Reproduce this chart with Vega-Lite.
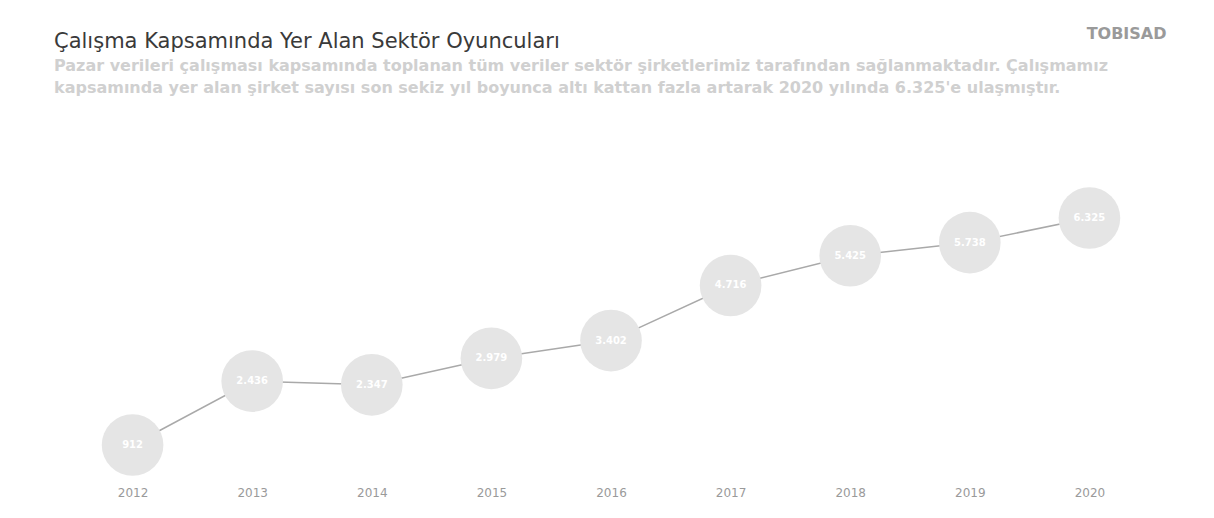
{
  "$schema": "https://vega.github.io/schema/vega-lite/v6.json",
  "width": 1114,
  "height": 338,
  "padding": {"left": 54, "right": 46, "top": 25, "bottom": 18},
  "background": "white",
  "title": {
    "text": "Çalışma Kapsamında Yer Alan Sektör Oyuncuları",
    "subtitle": [
      "Pazar verileri çalışması kapsamında toplanan tüm veriler sektör şirketlerimiz tarafından sağlanmaktadır. Çalışmamız",
      "kapsamında yer alan şirket sayısı son sekiz yıl boyunca altı kattan fazla artarak 2020 yılında 6.325'e ulaşmıştır."
    ],
    "anchor": "start",
    "frame": "group",
    "font": "DejaVu Sans",
    "fontSize": 21,
    "fontWeight": "normal",
    "color": "#3a3a3a",
    "subtitleFont": "DejaVu Sans",
    "subtitleFontSize": 16,
    "subtitleFontWeight": "bold",
    "subtitleColor": "#d0d0d0",
    "subtitleLineHeight": 22,
    "subtitlePadding": 6,
    "offset": -71
  },
  "data": {
    "values": [
      {"year": "2012", "count": 912, "label": "912"},
      {"year": "2013", "count": 2436, "label": "2.436"},
      {"year": "2014", "count": 2347, "label": "2.347"},
      {"year": "2015", "count": 2979, "label": "2.979"},
      {"year": "2016", "count": 3402, "label": "3.402"},
      {"year": "2017", "count": 4716, "label": "4.716"},
      {"year": "2018", "count": 5425, "label": "5.425"},
      {"year": "2019", "count": 5738, "label": "5.738"},
      {"year": "2020", "count": 6325, "label": "6.325"}
    ]
  },
  "encoding": {
    "x": {
      "field": "year",
      "type": "ordinal",
      "scale": {"type": "point", "padding": 0.657},
      "axis": {
        "title": null,
        "labelAngle": 0,
        "domain": false,
        "ticks": false,
        "grid": false,
        "labelPadding": 9,
        "labelFont": "DejaVu Sans",
        "labelFontSize": 12,
        "labelColor": "#9a9a9a"
      }
    },
    "y": {
      "field": "count",
      "type": "quantitative",
      "scale": {"domain": [125, 8185], "nice": false, "zero": false},
      "axis": {
        "orient": "right",
        "title": "TOBISAD",
        "titleAngle": 0,
        "titleAlign": "right",
        "titleBaseline": "middle",
        "titleX": -2,
        "titleY": -107,
        "titleFont": "DejaVu Sans",
        "titleFontSize": 16,
        "titleFontWeight": "bold",
        "titleColor": "#9a9a9a",
        "labels": false,
        "ticks": false,
        "domain": false,
        "grid": false
      }
    }
  },
  "layer": [
    {
      "mark": {"type": "line", "color": "#a9a9a9", "strokeWidth": 1.5}
    },
    {
      "mark": {"type": "circle", "size": 3800, "color": "#e5e5e5", "opacity": 1}
    },
    {
      "mark": {
        "type": "text",
        "color": "white",
        "font": "DejaVu Sans",
        "fontSize": 10,
        "fontWeight": "bold"
      },
      "encoding": {"text": {"field": "label", "type": "nominal"}}
    }
  ],
  "config": {"view": {"stroke": null}}
}
